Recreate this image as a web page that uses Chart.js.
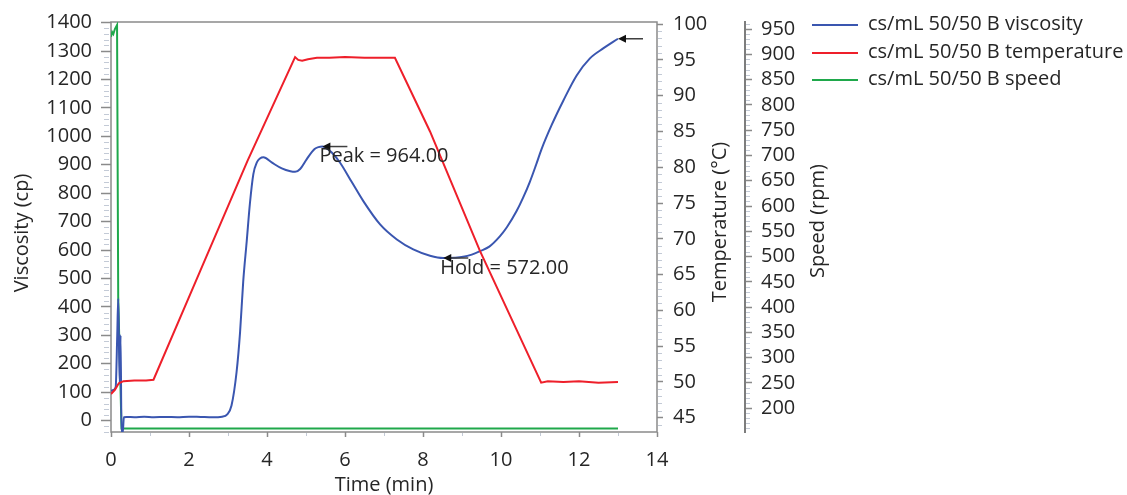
<!DOCTYPE html>
<html>
<head>
<meta charset="utf-8">
<script src="https://cdn.jsdelivr.net/npm/chart.js@4.4.1/dist/chart.umd.min.js"></script>
<style>
html,body{margin:0;padding:0;background:#fff;}
#wrap{position:relative;width:1127px;height:495px;}
</style>
</head>
<body>
<div id="wrap"><canvas id="c"></canvas></div>
<script>
// ---------- DATA ----------
const seriesLabels = ['cs/mL 50/50 B viscosity', 'cs/mL 50/50 B temperature', 'cs/mL 50/50 B speed'];

const viscTime = [0, 0.06, 0.12, 0.16, 0.185, 0.205, 0.225, 0.245, 0.27, 0.30, 0.33, 0.40, 0.6, 0.85, 1.1, 1.4, 1.7, 2.0, 2.3, 2.6, 2.85,
  2.98, 3.09, 3.22, 3.31, 3.39, 3.48, 3.56, 3.65, 3.74, 3.82, 3.91, 4.12, 4.38, 4.6, 4.72, 4.85, 5.02, 5.22, 5.32, 5.42, 5.55, 5.66,
  5.87, 6.17, 6.47, 6.9, 7.33, 7.75, 8.18, 8.52, 8.8, 9.03, 9.25, 9.46, 9.7, 9.97, 10.15, 10.4, 10.57, 10.74, 10.9, 11.04, 11.3,
  11.6, 11.94, 12.28, 12.62, 13.0];
const viscValues = [104, 108, 118, 300, 429, 260, 130, 300, -45, -45, 12, 13, 12, 14, 12, 13, 12, 14, 13, 12, 14,
  22, 53, 171, 312, 489, 631, 761, 867, 908, 922, 926, 908, 887, 877, 875, 885, 920, 955, 962, 964, 956, 943,
  908, 840, 772, 690, 637, 602, 580, 572, 573, 576, 584, 596, 612, 648, 680, 737, 785, 840, 900, 955, 1040,
  1126, 1214, 1274, 1309, 1343];

const tempTime = [0, 0.1, 0.2, 0.32, 0.6, 0.9, 1.09, 2.28, 3.5, 4.72, 4.8, 4.9, 5.05, 5.28, 5.6, 6.0, 6.5, 7.0, 7.28,
  8.18, 9.46, 11.03, 11.2, 11.6, 12.0, 12.5, 13.0];
const tempValues = [48.3, 48.9, 49.8, 50.1, 50.2, 50.2, 50.3, 65.4, 80.9, 95.4, 95.0, 94.9, 95.1, 95.3, 95.3, 95.4, 95.3, 95.3, 95.3,
  85.0, 68.3, 49.9, 50.1, 50.0, 50.1, 49.9, 50.0];

const speedTime = [0, 0.03, 0.06, 0.10, 0.155, 0.185, 0.27, 13.0];
const speedValues = [935, 944, 940, 950, 958, 420, 160, 160];

// tick labels
const timeTicks = [0, 2, 4, 6, 8, 10, 12, 14];
const viscTicks = [0, 100, 200, 300, 400, 500, 600, 700, 800, 900, 1000, 1100, 1200, 1300, 1400];
const tempTicks = [45, 50, 55, 60, 65, 70, 75, 80, 85, 90, 95, 100];
const speedTicks = [200, 250, 300, 350, 400, 450, 500, 550, 600, 650, 700, 750, 800, 850, 900, 950];

// axis titles
const xTitle = 'Time (min)';
const viscTitle = 'Viscosity (cp)';
const tempTitle = 'Temperature (°C)';
const speedTitle = 'Speed (rpm)';

// annotations
const peakPoint = [5.42, 964];
const holdPoint = [8.52, 572];
const finalPoint = [13.0, 1343];
const peakText = 'Peak = 964.00';
const holdText = 'Hold = 572.00';

// ---------- STYLE ----------
const FONT = "'Open Sans', 'Noto Sans', sans-serif";
const TEXT = '#262626';
const AXIS = '#8a8a8a';
const MINOR = '#c3cad6';
const COLORS = ['#3a56b0', '#ee1f2a', '#1fa84b'];

Chart.defaults.font.family = FONT;
Chart.defaults.font.size = 20;
Chart.defaults.color = TEXT;
Chart.defaults.animation = false;

const pts = (xs, ys) => xs.map((x, i) => ({x: x, y: ys[i]}));
const setTicks = arr => (s => { s.ticks = arr.map(v => ({value: v})); });

const extras = {
  id: 'extras',
  beforeDatasetsDraw(chart) {
    const ctx = chart.ctx, ca = chart.chartArea;
    ctx.save();
    ctx.strokeStyle = AXIS;
    ctx.lineWidth = 1.5;
    ctx.strokeRect(ca.left, ca.top, ca.right - ca.left, ca.bottom - ca.top);
    // minor ticks
    ctx.strokeStyle = MINOR;
    ctx.lineWidth = 1;
    const sy = chart.scales.y, s1 = chart.scales.y1, s2 = chart.scales.y2, sx = chart.scales.x;
    ctx.beginPath();
    for (let v = -40; v <= 1400; v += 20) {
      if (v % 100 === 0) continue;
      const p = Math.round(sy.getPixelForValue(v)) + 0.5;
      ctx.moveTo(ca.left - 7, p); ctx.lineTo(ca.left - 2, p);
    }
    for (let v = 44; v <= 100; v += 1) {
      if (v % 5 === 0) continue;
      const p = Math.round(s1.getPixelForValue(v)) + 0.5;
      ctx.moveTo(ca.right + 1, p); ctx.lineTo(ca.right + 5, p);
    }
    for (let v = 160; v <= 960; v += 10) {
      if (v % 50 === 0) continue;
      const p = Math.round(s2.getPixelForValue(v)) + 0.5;
      ctx.moveTo(s2.left + 1, p); ctx.lineTo(s2.left + 5, p);
    }
    for (let v = 1; v < 14; v += 2) {
      const p = Math.round(sx.getPixelForValue(v)) + 0.5;
      ctx.moveTo(p, ca.bottom + 1); ctx.lineTo(p, ca.bottom + 4);
    }
    ctx.stroke();
    ctx.restore();
  },
  afterDatasetsDraw(chart) {
    const ctx = chart.ctx;
    const sx = chart.scales.x, sy = chart.scales.y;
    ctx.save();
    const arrow = (pt, text) => {
      const tx = sx.getPixelForValue(pt[0]), ty = sy.getPixelForValue(pt[1]);
      ctx.strokeStyle = '#404040';
      ctx.lineWidth = 1.5;
      ctx.beginPath(); ctx.moveTo(tx + 3, ty); ctx.lineTo(tx + 25, ty); ctx.stroke();
      ctx.fillStyle = '#111';
      ctx.beginPath(); ctx.moveTo(tx, ty); ctx.lineTo(tx + 8, ty - 4); ctx.lineTo(tx + 8, ty + 4); ctx.closePath(); ctx.fill();
      if (text) {
        ctx.fillStyle = TEXT;
        ctx.font = '20px ' + FONT;
        ctx.textAlign = 'left';
        ctx.textBaseline = 'middle';
        ctx.fillText(text, tx - 3, ty + 10);
      }
    };
    arrow(peakPoint, peakText);
    arrow(holdPoint, holdText);
    arrow(finalPoint, null);
    ctx.restore();
  },
  afterDraw(chart) {
    const ctx = chart.ctx;
    ctx.save();
    ctx.fillStyle = TEXT;
    ctx.font = '20px ' + FONT;
    ctx.textAlign = 'center';
    ctx.textBaseline = 'middle';
    const vt = (text, x, y) => { ctx.save(); ctx.translate(x, y); ctx.rotate(-Math.PI / 2); ctx.fillText(text, 0, 0); ctx.restore(); };
    vt(viscTitle, 22, 233);
    vt(tempTitle, 720, 222);
    vt(speedTitle, 818, 221);
    // legend
    ctx.textAlign = 'left';
    const rows = [25, 53, 80];
    seriesLabels.forEach((lab, i) => {
      ctx.strokeStyle = COLORS[i];
      ctx.lineWidth = 2;
      ctx.beginPath(); ctx.moveTo(812, rows[i]); ctx.lineTo(858, rows[i]); ctx.stroke();
      ctx.fillStyle = TEXT;
      ctx.fillText(lab, 868, rows[i] - 1);
    });
    ctx.restore();
  }
};

new Chart(document.getElementById('c'), {
  type: 'line',
  data: {
    datasets: [
      {label: seriesLabels[0], data: pts(viscTime, viscValues), yAxisID: 'y', borderColor: COLORS[0], borderWidth: 2,
       pointRadius: 0, cubicInterpolationMode: 'monotone', order: 1},
      {label: seriesLabels[1], data: pts(tempTime, tempValues), yAxisID: 'y1', borderColor: COLORS[1], borderWidth: 2,
       pointRadius: 0, tension: 0, order: 0},
      {label: seriesLabels[2], data: pts(speedTime, speedValues), yAxisID: 'y2', borderColor: COLORS[2], borderWidth: 2,
       pointRadius: 0, tension: 0, order: 2}
    ]
  },
  options: {
    responsive: true,
    maintainAspectRatio: false,
    layout: {padding: {top: 22, left: 0, right: 294, bottom: 0}},
    plugins: {legend: {display: false}, tooltip: {enabled: false}},
    scales: {
      x: {
        type: 'linear', position: 'bottom', min: 0, max: 14,
        afterBuildTicks: setTicks(timeTicks),
        afterFit: s => { s.height = 63; },
        ticks: {padding: 11, maxRotation: 0, autoSkip: false, callback: v => String(v)},
        grid: {drawOnChartArea: false, drawTicks: true, tickLength: 5, tickColor: AXIS, tickWidth: 1.5},
        border: {display: false},
        title: {display: true, text: xTitle, padding: {top: 0, bottom: -2}}
      },
      y: {
        type: 'linear', position: 'left', min: -40, max: 1402,
        afterBuildTicks: setTicks(viscTicks),
        afterFit: s => { s.width = 111; },
        ticks: {padding: 9, autoSkip: false, callback: v => String(v)},
        grid: {drawOnChartArea: false, drawTicks: true, tickLength: 10, tickColor: AXIS, tickWidth: 1.5},
        border: {display: false}
      },
      y1: {
        type: 'linear', position: 'right', min: 43.0, max: 100.3,
        afterBuildTicks: setTicks(tempTicks),
        afterFit: s => { s.width = 88; },
        ticks: {padding: 10, autoSkip: false, callback: v => String(v)},
        grid: {drawOnChartArea: false, drawTicks: true, tickLength: 6, tickColor: AXIS, tickWidth: 1.5},
        border: {display: false}
      },
      y2: {
        type: 'linear', position: 'right', min: 153, max: 964,
        afterBuildTicks: setTicks(speedTicks),
        afterFit: s => { s.width = 88; },
        ticks: {padding: 9, autoSkip: false, callback: v => String(v)},
        grid: {drawOnChartArea: false, drawTicks: true, tickLength: 7, tickColor: AXIS, tickWidth: 1.5},
        border: {display: true, color: '#7d7d7d', width: 2}
      }
    }
  },
  plugins: [extras]
});
</script>
</body>
</html>
